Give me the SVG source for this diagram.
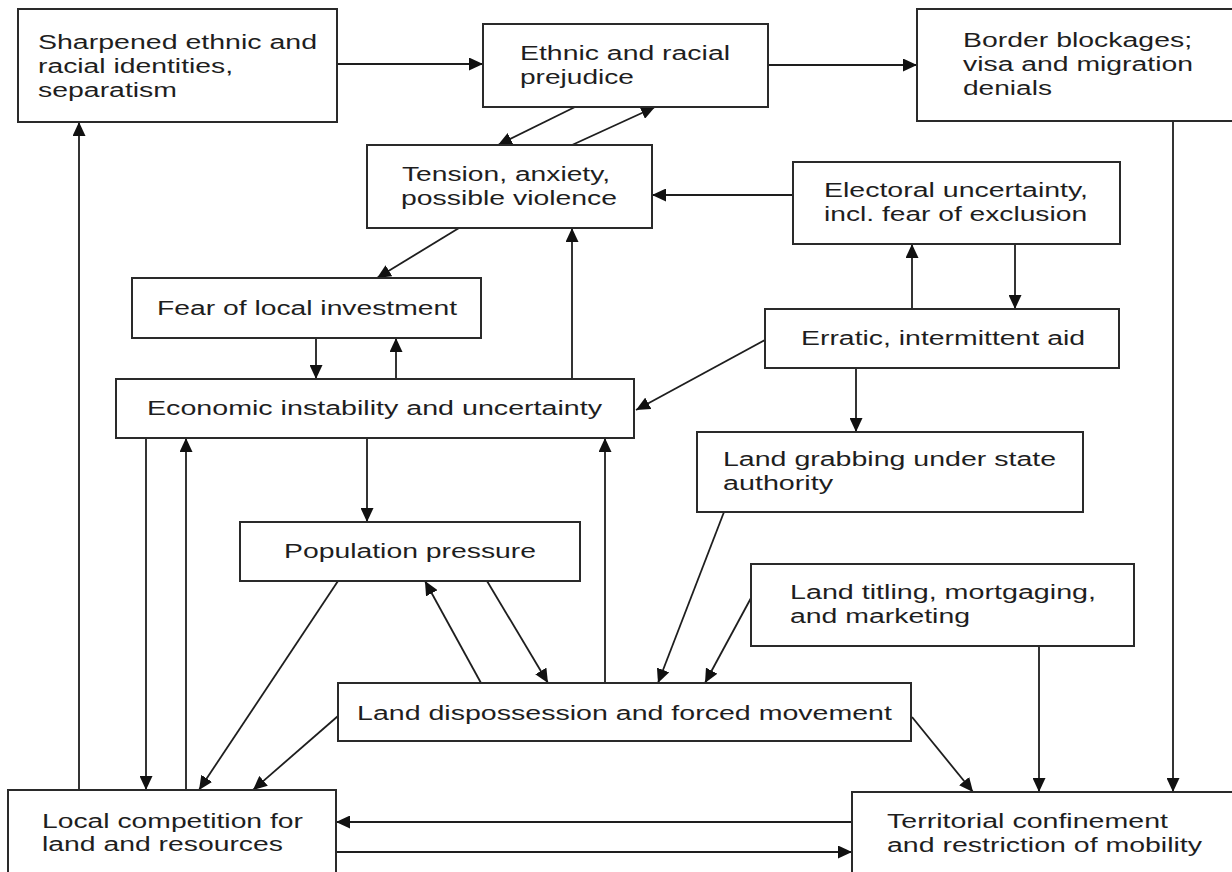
<svg xmlns="http://www.w3.org/2000/svg" width="1232" height="872" viewBox="0 0 1232 872">
<style>
.box{fill:#fff;stroke:#2a2a2a;stroke-width:2}
.t{font-family:"Liberation Sans",Arial,sans-serif;font-size:20px;fill:#1e1e1e}
.c{stroke:#1e1e1e;stroke-width:1.8;fill:none;marker-end:url(#ah)}
</style>
<defs>
<marker id="ah" markerUnits="userSpaceOnUse" markerWidth="15" markerHeight="13" refX="14" refY="6.5" orient="auto">
<path d="M0,0 L14,6.5 L0,13 z" fill="#111"/>
</marker>
</defs>
<rect width="1232" height="872" fill="#fff"/>
<g id="connectors">
<line class="c" x1="337" y1="64" x2="483" y2="64"/>
<line class="c" x1="768" y1="65" x2="917" y2="65"/>
<line class="c" x1="575" y1="107" x2="498" y2="145"/>
<line class="c" x1="572" y1="145" x2="655" y2="107"/>
<line class="c" x1="793" y1="195" x2="652" y2="195"/>
<line class="c" x1="459" y1="228" x2="377" y2="278"/>
<line class="c" x1="572" y1="379" x2="572" y2="228"/>
<line class="c" x1="316" y1="338" x2="316" y2="379"/>
<line class="c" x1="396" y1="379" x2="396" y2="338"/>
<line class="c" x1="912" y1="309" x2="912" y2="244"/>
<line class="c" x1="1015" y1="244" x2="1015" y2="309"/>
<line class="c" x1="765" y1="340" x2="636" y2="410"/>
<line class="c" x1="856" y1="368" x2="856" y2="432"/>
<line class="c" x1="1173" y1="121" x2="1173" y2="792"/>
<line class="c" x1="79" y1="790" x2="79" y2="122"/>
<line class="c" x1="146" y1="438" x2="146" y2="790"/>
<line class="c" x1="186" y1="790" x2="186" y2="438"/>
<line class="c" x1="367" y1="438" x2="367" y2="522"/>
<line class="c" x1="605" y1="683" x2="605" y2="438"/>
<line class="c" x1="338" y1="581" x2="199" y2="790"/>
<line class="c" x1="481" y1="683" x2="425" y2="581"/>
<line class="c" x1="487" y1="581" x2="548" y2="683"/>
<line class="c" x1="724" y1="512" x2="658" y2="683"/>
<line class="c" x1="751" y1="598" x2="705" y2="683"/>
<line class="c" x1="338" y1="716" x2="253" y2="790"/>
<line class="c" x1="912" y1="717" x2="973" y2="792"/>
<line class="c" x1="1039" y1="646" x2="1039" y2="792"/>
<line class="c" x1="852" y1="822" x2="336" y2="822"/>
<line class="c" x1="336" y1="852" x2="852" y2="852"/>
</g>
<g id="sharpened">
<rect class="box" x="18" y="9" width="319" height="113"/>
<text class="t" transform="translate(38,49) scale(1.4,1)" textLength="199.3" lengthAdjust="spacingAndGlyphs">Sharpened ethnic and</text>
<text class="t" transform="translate(38,73) scale(1.4,1)" textLength="139.3" lengthAdjust="spacingAndGlyphs">racial identities,</text>
<text class="t" transform="translate(38,97) scale(1.4,1)" textLength="99.3" lengthAdjust="spacingAndGlyphs">separatism</text>
</g>
<g id="prejudice">
<rect class="box" x="483" y="24" width="285" height="83"/>
<text class="t" transform="translate(520,60) scale(1.4,1)" textLength="150" lengthAdjust="spacingAndGlyphs">Ethnic and racial</text>
<text class="t" transform="translate(520,84) scale(1.4,1)" textLength="81.4" lengthAdjust="spacingAndGlyphs">prejudice</text>
</g>
<g id="border">
<rect class="box" x="917" y="9" width="330" height="112"/>
<text class="t" transform="translate(963,47) scale(1.4,1)" textLength="163.6" lengthAdjust="spacingAndGlyphs">Border blockages;</text>
<text class="t" transform="translate(963,71) scale(1.4,1)" textLength="164.3" lengthAdjust="spacingAndGlyphs">visa and migration</text>
<text class="t" transform="translate(963,95) scale(1.4,1)" textLength="63.6" lengthAdjust="spacingAndGlyphs">denials</text>
</g>
<g id="tension">
<rect class="box" x="367" y="145" width="285" height="83"/>
<text class="t" transform="translate(402,181) scale(1.4,1)" textLength="148.6" lengthAdjust="spacingAndGlyphs">Tension, anxiety,</text>
<text class="t" transform="translate(401,205) scale(1.4,1)" textLength="154.3" lengthAdjust="spacingAndGlyphs">possible violence</text>
</g>
<g id="electoral">
<rect class="box" x="793" y="162" width="327" height="82"/>
<text class="t" transform="translate(824,197) scale(1.4,1)" textLength="188.6" lengthAdjust="spacingAndGlyphs">Electoral uncertainty,</text>
<text class="t" transform="translate(824,221) scale(1.4,1)" textLength="187.9" lengthAdjust="spacingAndGlyphs">incl. fear of exclusion</text>
</g>
<g id="fear">
<rect class="box" x="132" y="278" width="349" height="60"/>
<text class="t" transform="translate(157,315) scale(1.4,1)" textLength="214.3" lengthAdjust="spacingAndGlyphs">Fear of local investment</text>
</g>
<g id="erratic">
<rect class="box" x="765" y="309" width="354" height="59"/>
<text class="t" transform="translate(801,345) scale(1.4,1)" textLength="202.9" lengthAdjust="spacingAndGlyphs">Erratic, intermittent aid</text>
</g>
<g id="economic">
<rect class="box" x="116" y="379" width="518" height="59"/>
<text class="t" transform="translate(147,415) scale(1.4,1)" textLength="325" lengthAdjust="spacingAndGlyphs">Economic instability and uncertainty</text>
</g>
<g id="landgrabbing">
<rect class="box" x="697" y="432" width="386" height="80"/>
<text class="t" transform="translate(723,466) scale(1.4,1)" textLength="237.9" lengthAdjust="spacingAndGlyphs">Land grabbing under state</text>
<text class="t" transform="translate(723,490) scale(1.4,1)" textLength="78.6" lengthAdjust="spacingAndGlyphs">authority</text>
</g>
<g id="population">
<rect class="box" x="240" y="522" width="340" height="59"/>
<text class="t" transform="translate(284,558) scale(1.4,1)" textLength="180" lengthAdjust="spacingAndGlyphs">Population pressure</text>
</g>
<g id="landtitling">
<rect class="box" x="751" y="564" width="383" height="82"/>
<text class="t" transform="translate(790,599) scale(1.4,1)" textLength="218.6" lengthAdjust="spacingAndGlyphs">Land titling, mortgaging,</text>
<text class="t" transform="translate(790,623) scale(1.4,1)" textLength="128.6" lengthAdjust="spacingAndGlyphs">and marketing</text>
</g>
<g id="dispossession">
<rect class="box" x="338" y="683" width="573" height="58"/>
<text class="t" transform="translate(357,720) scale(1.4,1)" textLength="382.1" lengthAdjust="spacingAndGlyphs">Land dispossession and forced movement</text>
</g>
<g id="local">
<rect class="box" x="8" y="790" width="328" height="100"/>
<text class="t" transform="translate(42,828) scale(1.4,1)" textLength="186.4" lengthAdjust="spacingAndGlyphs">Local competition for</text>
<text class="t" transform="translate(42,851) scale(1.4,1)" textLength="172.1" lengthAdjust="spacingAndGlyphs">land and resources</text>
</g>
<g id="territorial">
<rect class="box" x="852" y="792" width="400" height="100"/>
<text class="t" transform="translate(887,828) scale(1.4,1)" textLength="200.7" lengthAdjust="spacingAndGlyphs">Territorial confinement</text>
<text class="t" transform="translate(887,852) scale(1.4,1)" textLength="225" lengthAdjust="spacingAndGlyphs">and restriction of mobility</text>
</g>
</svg>
